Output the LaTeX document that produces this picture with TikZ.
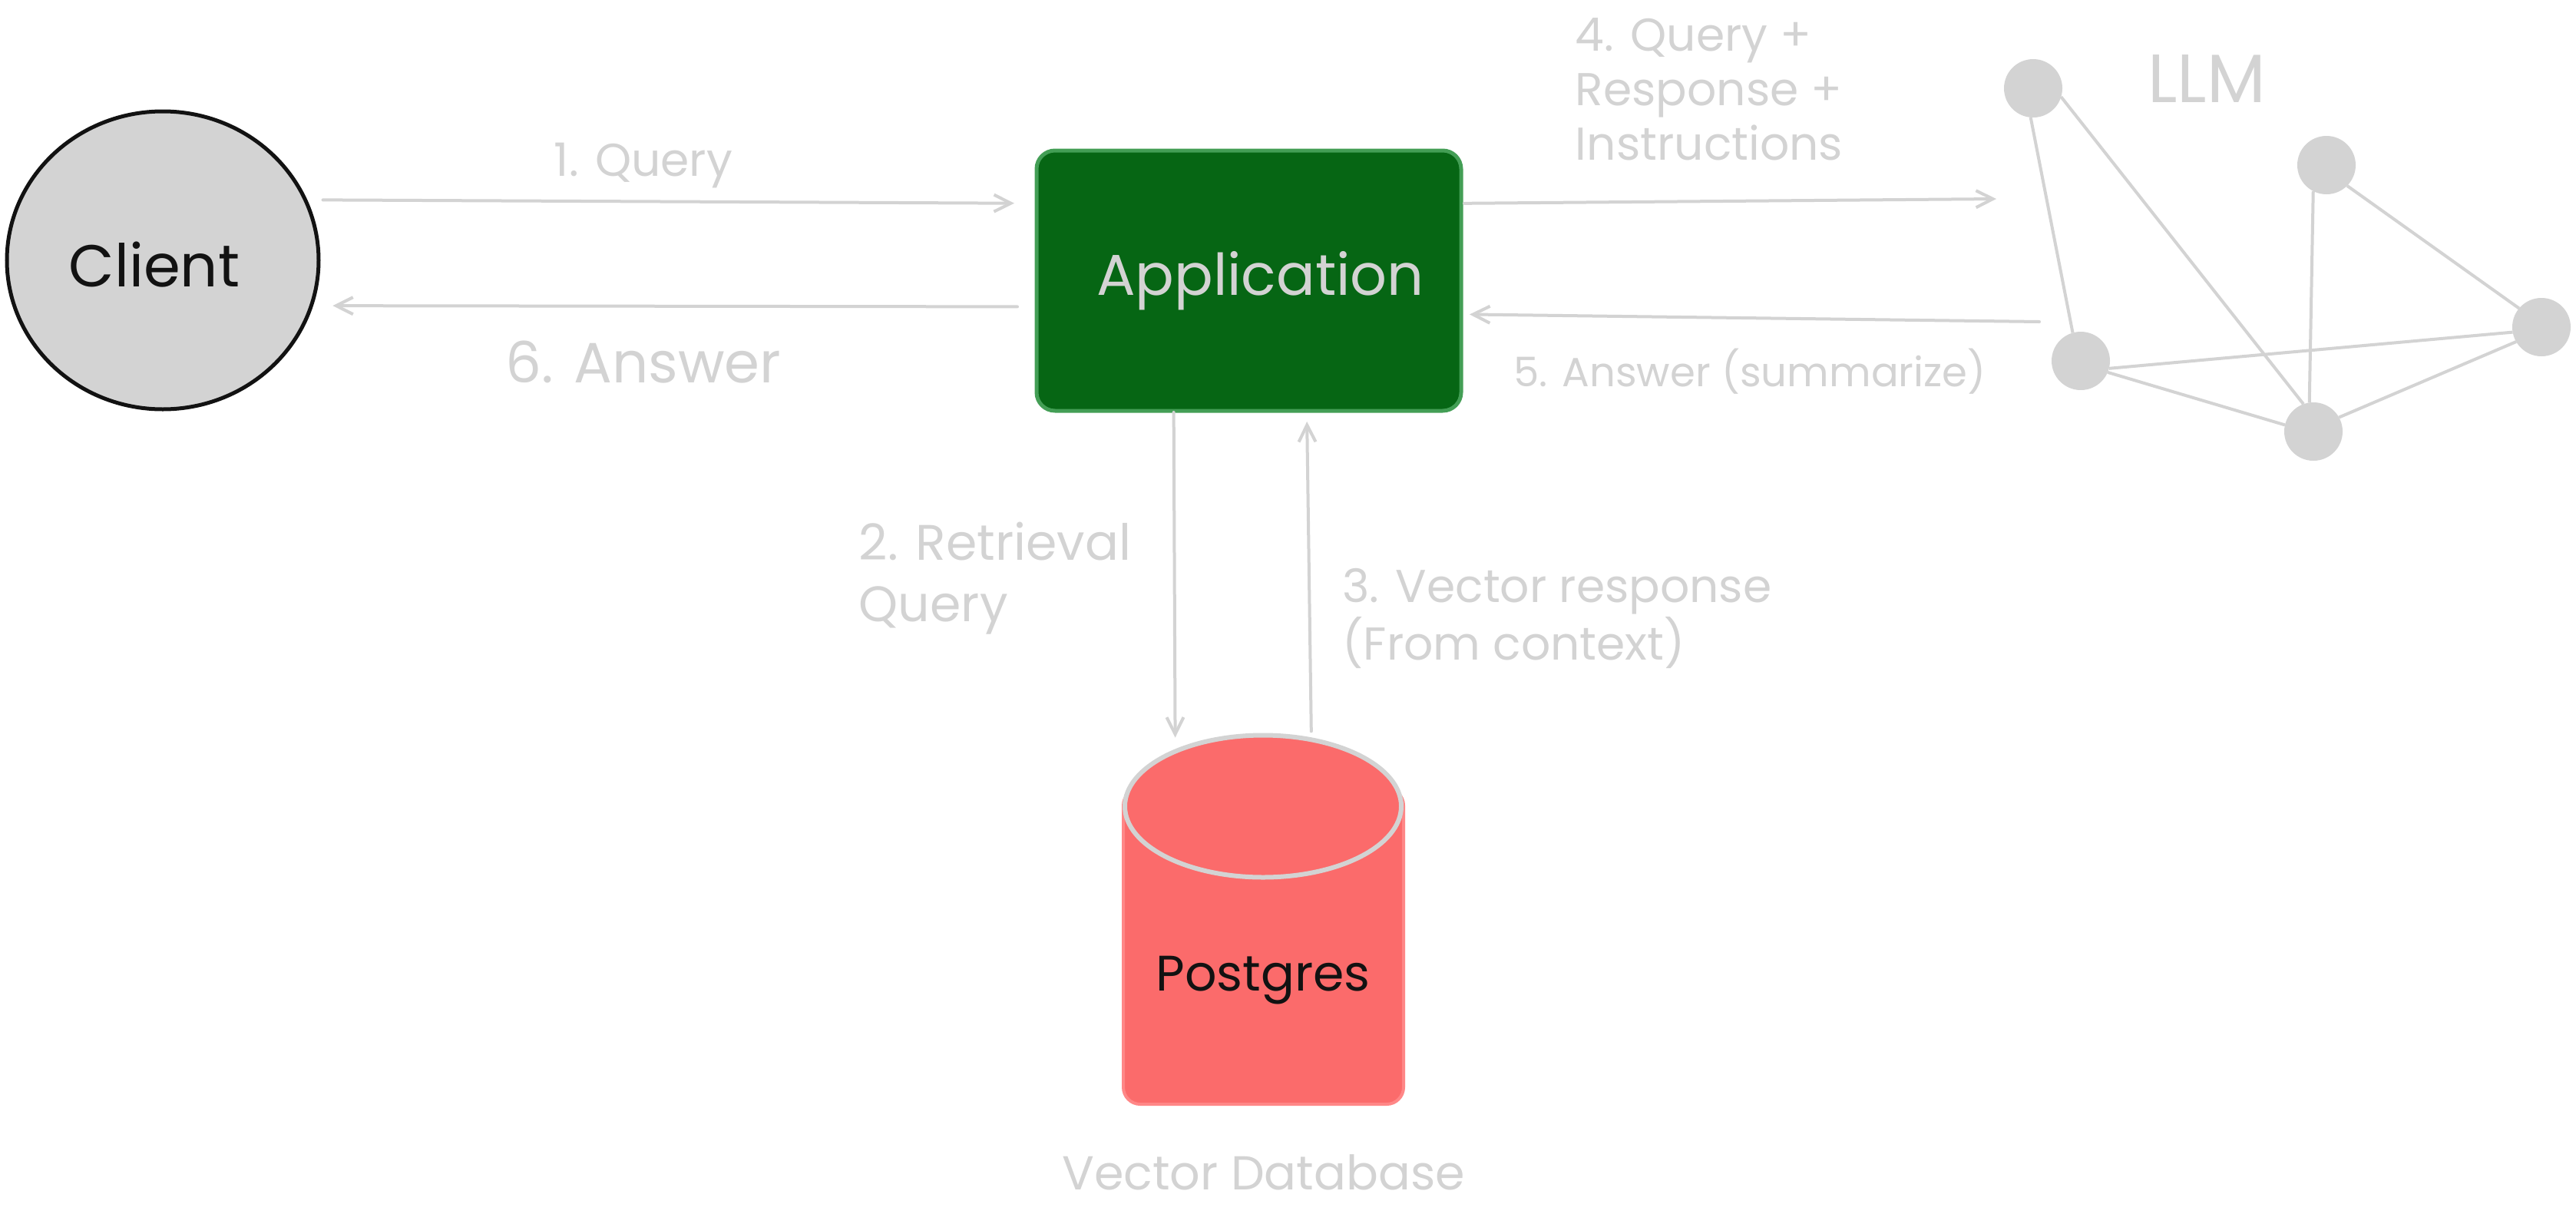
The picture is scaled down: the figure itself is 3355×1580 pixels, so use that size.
\documentclass[tikz,border=0pt]{standalone}
\usepackage{fontspec}
\setmainfont{Poppins}
\usetikzlibrary{arrows.meta,positioning,shapes.geometric}
\definecolor{faint}{HTML}{D3D3D3}
\definecolor{appgreen}{HTML}{066614}
\definecolor{appedge}{HTML}{439E55}
\definecolor{dbred}{HTML}{FB6B6B}
\definecolor{dbedge}{HTML}{FF8787}
\tikzstyle{client}=[
	ellipse,
	line width=5pt,
	draw=black!93,
	fill=faint,
	inner sep=0pt,
	outer sep=0pt,
	minimum width=406pt,
	minimum height=388pt
]
\tikzstyle{application}=[
	rectangle,
	rounded corners=24pt,
	line width=5pt,
	draw=appedge,
	fill=appgreen,
	text=faint,
	outer sep=0pt,
	minimum width=553pt,
	minimum height=339pt,
	font=\fontsize{75}{80}\selectfont
]
\tikzstyle{dbbody}=[
	rectangle,
	rounded corners=22pt,
	line width=4pt,
	draw=dbedge,
	fill=dbred,
	outer sep=0pt,
	minimum width=365pt,
	minimum height=411pt
]
\tikzstyle{dbtop}=[
	ellipse,
	line width=6pt,
	draw=faint,
	fill=dbred,
	inner sep=0pt,
	outer sep=0pt,
	minimum width=360pt,
	minimum height=185pt
]
\tikzstyle{dbname}=[
	font=\fontsize{65}{70}\selectfont,
	text=black!93
]
\tikzstyle{note}=[
	text=faint,
	align=left,
	inner sep=0pt,
	font=\fontsize{60}{71}\selectfont
]
\tikzstyle{dot}=[
	circle,
	fill=faint,
	inner sep=0pt,
	outer sep=0pt,
	minimum size=76pt
]
\tikzstyle{flow}=[
	-{Straight Barb[length=22pt,width=22pt]},
	line width=4pt,
	line cap=round,
	draw=faint
]
\tikzstyle{mesh}=[
	line width=4pt,
	draw=faint
]

\begin{document}
\begin{tikzpicture}[x=1pt,y=-1pt]
\useasboundingbox (0,0) rectangle (3355,1580);
% main boxes
\node [client] (Client) at (212,339) {};
\node [dbname, font=\fontsize{77}{80}\selectfont] (ClientName) at (201,345) {Client};
\node [application] (Application) at (1626.5,365.5) {\hspace{30pt}Application};
\node [dbbody] (DbBody) at (1645.5,1232.5) {};
\node [dbtop] (DbTop) at (1645,1050) {};
\node [dbname] (Postgres) at (1645,1277) {Postgres};
% the llm graph
\node [dot] (DotA) at (2648,115) {};
\node [dot] (DotB) at (3030,215) {};
\node [dot] (DotC) at (3310,426) {};
\node [dot] (DotD) at (2710,470) {};
\node [dot] (DotE) at (3013,562) {};
\draw [mesh] (DotA.-95) -- (DotD.106);
\draw [mesh] (DotA.-17) -- (DotE.110);
\draw [mesh] (DotB.243) -- (DotE.98);
\draw [mesh] (DotB.-45) -- (DotC.140);
\draw [mesh] (DotC.190) -- (DotD.-15);
\draw [mesh] (DotC.210) -- (DotE.29);
\draw [mesh] (DotD.-23) -- (DotE.167);
\coordinate (LlmIn) at (2600,259);
\coordinate (LlmOut) at (2656,419);
% flows
\draw [flow, shorten <=23pt, shorten >=29pt] (Client.23) -- (Application.160.5);
\draw [flow, shorten <=25pt, shorten >=28pt] (Application.187.7) -- (Client.-17.3);
\draw [flow, shorten <=2pt, shorten >=18pt] (Application.240.7) -- (DbTop.148.6);
\draw [flow, shorten <=11pt, shorten >=14pt] (DbTop.54.9) -- (Application.294);
\draw [flow, shorten <=4pt] (Application.20.3) -- (LlmIn);
\draw [flow, shorten >=11pt] (LlmOut) -- (Application.-9.55);
% labels
\node [note] (QueryNote) at (838,216) {1. Query};
\node [note, font=\fontsize{74}{80}\selectfont] (AnswerNote) at (838,472) {6. Answer};
\node [note, font=\fontsize{65}{80}\selectfont] (RetrievalNote) at (1296,753) {2. Retrieval\\Query};
\node [note, font=\fontsize{60}{75}\selectfont] (VectorNote) at (2028,805) {3. Vector response\\(From context)};
\node [note] (PromptNote) at (2226,116) {4. Query +\\Response +\\Instructions};
\node [note, font=\fontsize{53}{60}\selectfont] (SummaryNote) at (2279,484) {5. Answer (summarize)};
\node [note, font=\fontsize{62}{71}\selectfont] (StoreNote) [below=65pt of DbBody] {Vector Database};
\node [note, font=\fontsize{89}{90}\selectfont] (LlmNote) at (2874,102) {LLM};
\end{tikzpicture}
\end{document}
